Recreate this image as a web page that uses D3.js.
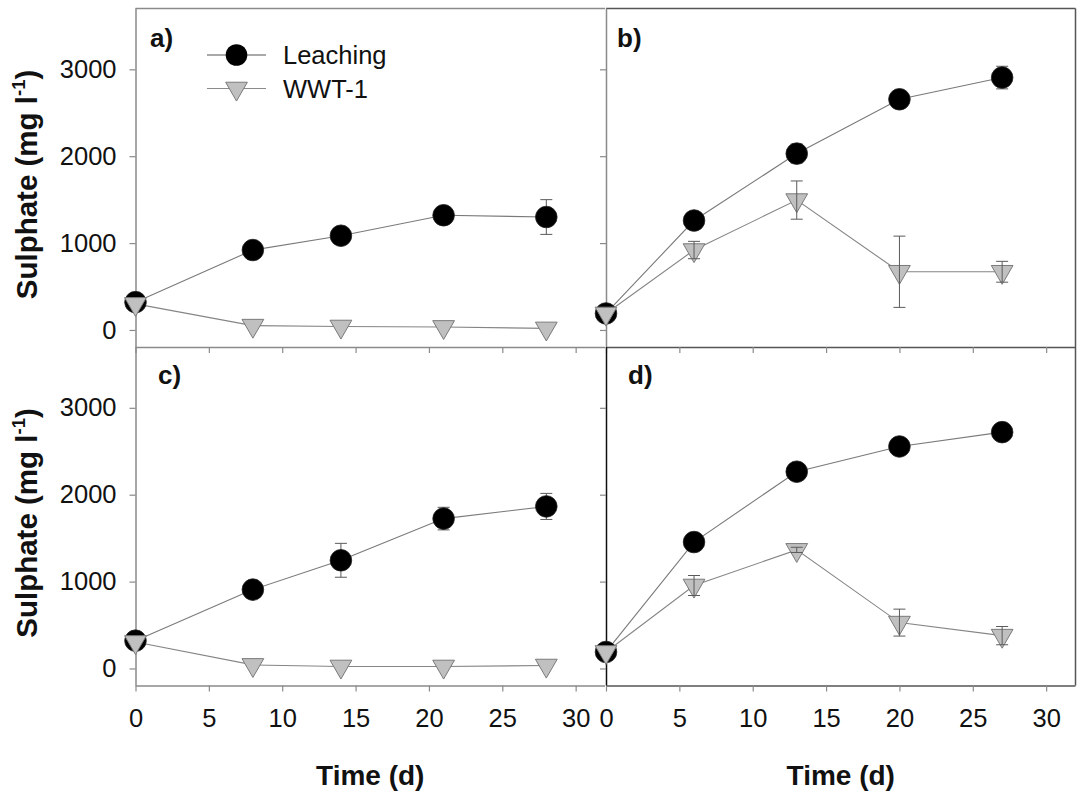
<!DOCTYPE html>
<html>
<head>
<meta charset="utf-8">
<script src="https://cdn.jsdelivr.net/npm/d3@7"></script>
<style>
  html, body { margin: 0; padding: 0; background: #fff; }
  svg { display: block; font-family: "Liberation Sans", Arial, sans-serif; }
</style>
</head>
<body>
<svg id="chart" width="1081" height="798"></svg>
<script>
// ---------------- DATA ----------------
const daysAC = [0, 8, 14, 21, 28];
const daysBD = [0, 6, 13, 20, 27];

const leachA    = [320, 920, 1085, 1320, 1300];
const leachAErr = [0, 0, 0, 90, 200];
const wwtA      = [300, 50, 40, 35, 18];
const wwtAErr   = [0, 0, 0, 0, 0];

const leachB    = [190, 1260, 2030, 2655, 2905];
const leachBErr = [0, 0, 110, 0, 130];
const wwtB      = [190, 920, 1495, 670, 670];
const wwtBErr   = [0, 100, 220, 410, 120];

const leachC    = [320, 908, 1245, 1725, 1865];
const leachCErr = [0, 0, 195, 130, 150];
const wwtC      = [305, 41, 23, 23, 34];
const wwtCErr   = [0, 0, 0, 0, 0];

const leachD    = [190, 1455, 2265, 2555, 2720];
const leachDErr = [0, 0, 0, 0, 0];
const wwtD      = [190, 955, 1365, 528, 378];
const wwtDErr   = [0, 115, 30, 155, 105];

const xTicks = [0, 5, 10, 15, 20, 25, 30];
const yTicks = [0, 1000, 2000, 3000];
const panelLabels = ["a)", "b)", "c)", "d)"];
const seriesNames = ["Leaching", "WWT-1"];
const yTitle = "Sulphate (mg l";
const yTitleSup = "-1";
const xTitle = "Time (d)";

// ---------------- LAYOUT ----------------
const svg = d3.select("#chart");
const colL = [135.5, 606], colW = 469.5;
const rowT = [8.5, 347], rowH = 338.5;
const xDomain = [0, 32];
const yDomain = [-196, 3700];

const panels = [
  {label: panelLabels[0], col: 0, row: 0, days: daysAC, leach: leachA, leachErr: leachAErr, wwt: wwtA, wwtErr: wwtAErr, lx: 14.5, ly: 38.5, frame: "top", legend: true},
  {label: panelLabels[1], col: 1, row: 0, days: daysBD, leach: leachB, leachErr: leachBErr, wwt: wwtB, wwtErr: wwtBErr, lx: 11, ly: 38.5, frame: "box"},
  {label: panelLabels[2], col: 0, row: 1, days: daysAC, leach: leachC, leachErr: leachCErr, wwt: wwtC, wwtErr: wwtCErr, lx: 22.5, ly: 37, frame: "none"},
  {label: panelLabels[3], col: 1, row: 1, days: daysBD, leach: leachD, leachErr: leachDErr, wwt: wwtD, wwtErr: wwtDErr, lx: 22, ly: 37, frame: "right"}
];

const axisColor = "#8a8a8a";
const frameColor = "#555";
const lineColor = "#858585";
const errColor = "#5a5a5a";
const triFill = "#c0c0c0";
const triStroke = "#7a7a7a";
const circleR = 10.8;
const triSize = 205;
const triPath = d3.symbol().type(d3.symbolTriangle).size(triSize)();

panels.forEach(p => {
  const x0 = colL[p.col], y0 = rowT[p.row];
  const x = d3.scaleLinear().domain(xDomain).range([x0, x0 + colW]);
  const y = d3.scaleLinear().domain(yDomain).range([y0 + rowH, y0]);
  const g = svg.append("g");

  // frame lines
  if (p.frame === "top" || p.frame === "box") {
    g.append("line").attr("x1", x0).attr("x2", x0 + colW).attr("y1", y0).attr("y2", y0)
      .attr("stroke", p.frame === "box" ? frameColor : axisColor).attr("stroke-width", 1.5);
  }
  if (p.frame === "box" || p.frame === "right") {
    g.append("line").attr("x1", x0 + colW).attr("x2", x0 + colW).attr("y1", y0).attr("y2", y0 + rowH)
      .attr("stroke", frameColor).attr("stroke-width", 1.5);
  }

  // x axis
  const xAxis = d3.axisBottom(x).tickValues(xTicks).tickSize(6).tickPadding(17)
    .tickFormat(p.row === 1 ? d3.format("d") : () => "");
  const gx = g.append("g").attr("transform", `translate(0,${y0 + rowH})`).call(xAxis);
  gx.select(".domain").attr("d", `M${x0},0.5H${x0 + colW}`)
    .attr("stroke", p.frame === "box" || p.frame === "right" ? frameColor : axisColor).attr("stroke-width", 1.5);
  gx.selectAll(".tick line").attr("stroke", axisColor).attr("stroke-width", 1.2);
  gx.selectAll(".tick text").attr("font-size", 25.5).attr("fill", "#111")
    .attr("font-family", "Liberation Sans, Arial, sans-serif");

  // y axis
  const yAxis = d3.axisLeft(y).tickValues(yTicks).tickSize(6).tickPadding(13)
    .tickFormat(p.col === 0 ? d3.format("d") : () => "");
  const gy = g.append("g").attr("transform", `translate(${x0},0)`).call(yAxis);
  gy.select(".domain").attr("d", `M0.5,${y0}V${y0 + rowH}`)
    .attr("stroke", p.frame === "right" ? "#111" : axisColor).attr("stroke-width", 1.5);
  gy.selectAll(".tick line").attr("stroke", axisColor).attr("stroke-width", 1.2);
  gy.selectAll(".tick text").attr("font-size", 25.5).attr("fill", "#111")
    .attr("font-family", "Liberation Sans, Arial, sans-serif");

  // connecting lines
  const line = d3.line().x((d, i) => x(p.days[i])).y(d => y(d));
  g.append("path").datum(p.wwt).attr("d", line).attr("fill", "none")
    .attr("stroke", lineColor).attr("stroke-width", 1.1);
  g.append("path").datum(p.leach).attr("d", line).attr("fill", "none")
    .attr("stroke", "#7a7a7a").attr("stroke-width", 1.1);

  function errBars(vals, errs) {
    vals.forEach((v, i) => {
      const e = errs[i];
      if (!e) return;
      const cx = x(p.days[i]);
      const yt = y(v + e), yb = y(v - e);
      g.append("line").attr("x1", cx).attr("x2", cx).attr("y1", yt).attr("y2", yb)
        .attr("stroke", errColor).attr("stroke-width", 1);
      [yt, yb].forEach(yy => g.append("line").attr("x1", cx - 6).attr("x2", cx + 6)
        .attr("y1", yy).attr("y2", yy).attr("stroke", errColor).attr("stroke-width", 1));
    });
  }

  errBars(p.leach, p.leachErr);
  g.selectAll(".circ").data(p.leach).enter().append("circle")
    .attr("cx", (d, i) => x(p.days[i])).attr("cy", d => y(d)).attr("r", circleR)
    .attr("fill", "#000").attr("stroke", "#222").attr("stroke-width", 0.8);
  g.selectAll(".tri").data(p.wwt).enter().append("path")
    .attr("d", triPath)
    .attr("transform", (d, i) => `translate(${x(p.days[i])},${y(d)}) rotate(180)`)
    .attr("fill", triFill).attr("stroke", triStroke).attr("stroke-width", 1);
  errBars(p.wwt, p.wwtErr);

  // panel label
  g.append("text").attr("x", x0 + p.lx).attr("y", y0 + p.ly)
    .attr("font-size", 26).attr("font-weight", "bold").attr("fill", "#111").text(p.label);

  // legend
  if (p.legend) {
    const lg = svg.append("g");
    const items = [
      {name: seriesNames[0], y: 55, type: "circle", lc: "#555"},
      {name: seriesNames[1], y: 88.5, type: "tri", lc: "#8a8a8a"}
    ];
    items.forEach(it => {
      lg.append("line").attr("x1", 207).attr("x2", 266).attr("y1", it.y).attr("y2", it.y)
        .attr("stroke", it.lc).attr("stroke-width", 1.1);
      if (it.type === "circle") {
        lg.append("circle").attr("cx", 236.5).attr("cy", it.y).attr("r", circleR).attr("fill", "#000");
      } else {
        lg.append("path").attr("d", triPath)
          .attr("transform", `translate(236.5,${it.y}) rotate(180)`)
          .attr("fill", triFill).attr("stroke", triStroke).attr("stroke-width", 1);
      }
      lg.append("text").attr("x", 283).attr("y", it.y + 9).attr("font-size", 25.5)
        .attr("fill", "#111").text(it.name);
    });
  }
});

// y titles
rowT.forEach(t => {
  const cy = t + 176;
  const txt = svg.append("text")
    .attr("transform", `translate(37,${cy}) rotate(-90)`)
    .attr("text-anchor", "middle").attr("font-size", 29.5).attr("font-weight", "bold").attr("fill", "#111");
  txt.append("tspan").text(yTitle);
  txt.append("tspan").attr("font-size", 18.5).attr("dy", -12).text(yTitleSup);
  txt.append("tspan").attr("dy", 12).text(")");
});

// x titles
colL.forEach(l => {
  svg.append("text").attr("x", l + colW / 2).attr("y", 785)
    .attr("text-anchor", "middle").attr("font-size", 28).attr("font-weight", "bold")
    .attr("fill", "#111").text(xTitle);
});
</script>
</body>
</html>
